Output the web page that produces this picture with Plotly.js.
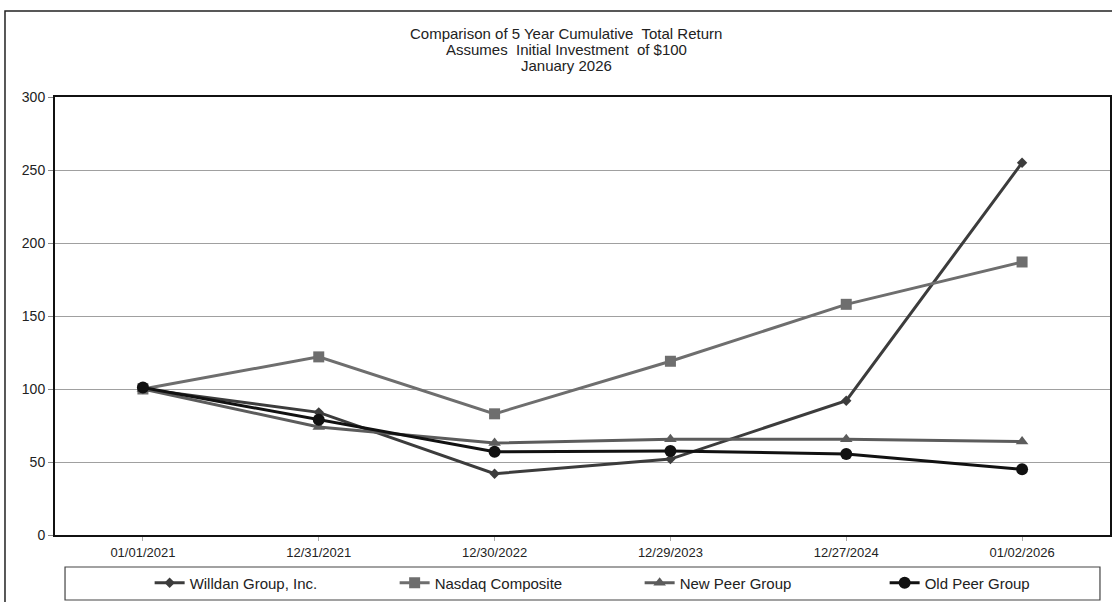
<!DOCTYPE html>
<html>
<head>
<meta charset="utf-8">
<script src="https://cdn.plot.ly/plotly-3.0.1.min.js"></script>
<style>html,body{margin:0;padding:0;background:#fff;}</style>
</head>
<body>
<div id="chart" style="width:1112px;height:602px;"></div>
<script>
const dates = ["01/01/2021", "12/31/2021", "12/30/2022", "12/29/2023", "12/27/2024", "01/02/2026"];
const willdan = [100, 84, 42, 52, 92, 255];
const nasdaq = [100, 122, 83, 119, 158, 187];
const newPeer = [100, 74, 63, 65.5, 65.5, 64];
const oldPeer = [101, 79, 57, 57.5, 55.5, 45];
const yTicks = [0, 50, 100, 150, 200, 250, 300];
const titleLines = ["Comparison of 5 Year Cumulative  Total Return", "Assumes  Initial Investment  of $100", "January 2026"];

const font = "Liberation Sans, Arial, sans-serif";

function tr(name, y, color, symbol, size) {
  return {
    x: dates, y: y, name: name, type: "scatter", mode: "lines+markers",
    line: {color: color, width: 3},
    marker: {color: color, symbol: symbol, size: size}
  };
}

const data = [
  tr("Willdan Group, Inc.", willdan, "#3c3c3c", "diamond", 8),
  tr("Nasdaq Composite", nasdaq, "#6e6e6e", "square", 11),
  tr("New Peer Group", newPeer, "#5c5c5c", "triangle-up", 11),
  tr("Old Peer Group", oldPeer, "#111111", "circle", 12)
];

// paper y for a pixel row (plot area 97..535)
const py = p => (535 - p) / 438;

const layout = {
  width: 1112, height: 602,
  margin: {l: 55, r: 2, t: 97, b: 67, autoexpand: false},
  paper_bgcolor: "#fff", plot_bgcolor: "#fff",
  font: {family: font, size: 13, color: "#222"},
  showlegend: true,
  legend: {
    orientation: "h", x: 0.0897, xanchor: "left", y: py(583), yanchor: "middle",
    entrywidth: 200, entrywidthmode: "pixels",
    font: {family: font, size: 15, color: "#222"},
    bgcolor: "rgba(0,0,0,0)", traceorder: "normal"
  },
  xaxis: {
    type: "category", range: [-0.5, 5.5],
    showline: true, linecolor: "#111", linewidth: 2, mirror: true,
    ticks: "outside", ticklen: 4, tickcolor: "#aaa",
    showgrid: false, zeroline: false,
    tickfont: {family: font, size: 13, color: "#222"}
  },
  yaxis: {
    range: [0, 300], tickvals: yTicks, ticktext: yTicks.map(String),
    showline: true, linecolor: "#111", linewidth: 2, mirror: true,
    ticks: "outside", ticklen: 5, tickcolor: "#888",
    showgrid: true, gridcolor: "#a0a0a0", gridwidth: 1, zeroline: false,
    tickfont: {family: font, size: 14, color: "#222"}
  },
  annotations: titleLines.map((t, i) => ({
    xref: "paper", yref: "paper", x: (566 - 55) / 1055, y: py(33 + 16 * i),
    xanchor: "center", yanchor: "middle", showarrow: false,
    text: t, font: {family: font, size: 15, color: "#222"}
  })),
  shapes: [
    {type: "rect", xref: "paper", yref: "paper", x0: -0.0474, x1: 1.05, y0: -0.3, y1: py(11),
     line: {color: "#222", width: 1.5}, fillcolor: "rgba(0,0,0,0)"},
    {type: "rect", xref: "paper", yref: "paper", x0: 0.0095, x1: 0.9905, y0: py(600), y1: py(567),
     line: {color: "#444", width: 1.2}, fillcolor: "rgba(0,0,0,0)"}
  ]
};

Plotly.newPlot("chart", data, layout, {displayModeBar: false, staticPlot: true});
</script>
</body>
</html>
